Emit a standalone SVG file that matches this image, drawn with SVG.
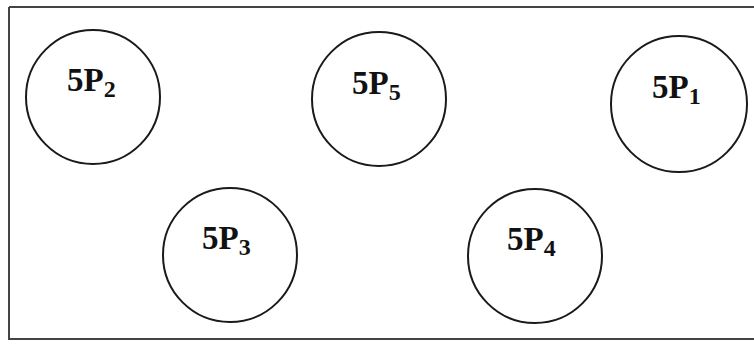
<svg xmlns="http://www.w3.org/2000/svg" width="754" height="344" viewBox="0 0 754 344">
<style>
.node circle{fill:none;stroke:#1a1a1a;stroke-width:2}
.node text{font-family:"Liberation Serif","Times New Roman",serif;font-weight:bold;font-size:33px;fill:#111}
.sub{font-size:24px}
.frame{stroke:#444;stroke-width:2;fill:none}
</style>
<rect width="754" height="344" fill="#fff"/>
<g id="frame">
<path class="frame" d="M9,7 H754 M9,7 V339 H754"/>
</g>
<g id="connectors"></g>
<g id="n5P2" class="node"><circle cx="93" cy="97" r="67"/><text x="67" y="91">5P<tspan class="sub" dy="6">2</tspan></text></g>
<g id="n5P5" class="node"><circle cx="379" cy="99" r="67"/><text x="352" y="94">5P<tspan class="sub" dy="6">5</tspan></text></g>
<g id="n5P1" class="node"><circle cx="679" cy="104" r="68"/><text x="652" y="98">5P<tspan class="sub" dy="6">1</tspan></text></g>
<g id="n5P3" class="node"><circle cx="230" cy="255" r="67"/><text x="202" y="249">5P<tspan class="sub" dy="6">3</tspan></text></g>
<g id="n5P4" class="node"><circle cx="535" cy="256" r="67"/><text x="507" y="250">5P<tspan class="sub" dy="6">4</tspan></text></g>
</svg>
